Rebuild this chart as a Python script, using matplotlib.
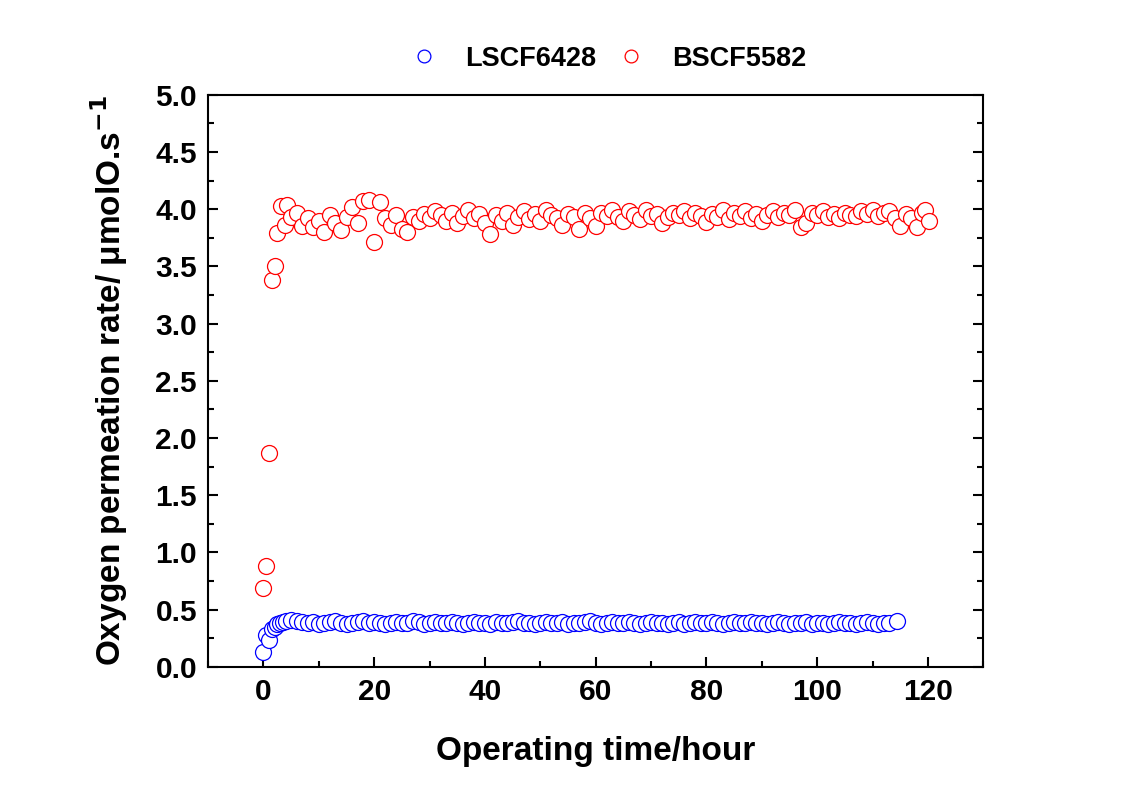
import matplotlib.pyplot as plt
from matplotlib.ticker import MultipleLocator

plt.rcParams['font.family'] = ['Liberation Sans', 'DejaVu Sans']
plt.rcParams['font.weight'] = 'bold'
plt.rcParams['axes.labelweight'] = 'bold'
plt.rcParams['mathtext.default'] = 'bf'

# Data
# ----------------------------------------------------------------------------

lscf_t = [0, 0.5, 1, 1.5, 2, 2.5, 3, 3.5, 4, 5, 6] + list(range(7, 114)) + [114.5]
lscf_y = [
    0.13, 0.28, 0.23, 0.33, 0.35, 0.37, 0.38, 0.39, 0.40, 0.41, 0.40,
    0.39, 0.38, 0.39, 0.37, 0.38, 0.39, 0.40, 0.38, 0.37, 0.38,   # 7-16
    0.39, 0.40, 0.38, 0.39, 0.38, 0.37, 0.38, 0.39, 0.38, 0.38,   # 17-26
    0.40, 0.39, 0.37, 0.38, 0.39, 0.38, 0.38, 0.39, 0.38, 0.37,   # 27-36
    0.38, 0.39, 0.38, 0.38, 0.37, 0.39, 0.38, 0.38, 0.39, 0.40,   # 37-46
    0.38, 0.38, 0.37, 0.38, 0.39, 0.38, 0.38, 0.39, 0.37, 0.38,   # 47-56
    0.38, 0.39, 0.40, 0.38, 0.37, 0.38, 0.39, 0.38, 0.38, 0.39,   # 57-66
    0.38, 0.37, 0.38, 0.39, 0.38, 0.38, 0.37, 0.38, 0.39, 0.37,   # 67-76
    0.38, 0.39, 0.38, 0.38, 0.39, 0.38, 0.37, 0.38, 0.39, 0.38,   # 77-86
    0.38, 0.39, 0.38, 0.38, 0.37, 0.38, 0.39, 0.38, 0.37, 0.38,   # 87-96
    0.38, 0.39, 0.37, 0.38, 0.38, 0.37, 0.38, 0.39, 0.38, 0.38,   # 97-106
    0.37, 0.38, 0.39, 0.38, 0.37, 0.38, 0.38,                     # 107-113
    0.40,
]

bscf_t = [0, 0.5, 1, 1.5, 2, 2.5, 3.2, 3.8, 4.2] + list(range(5, 120)) + [119.5, 120.2]
bscf_y = [
    0.69, 0.88, 1.87, 3.38, 3.50, 3.79, 4.03, 3.86, 4.04,
    3.93, 3.97, 3.85, 3.92, 3.84, 3.90, 3.80, 3.95, 3.88, 3.82,   # 5-14
    3.93, 4.02, 3.88, 4.07, 4.08, 3.71, 4.06, 3.92, 3.86, 3.95,   # 15-24
    3.83, 3.80, 3.93, 3.90, 3.96, 3.92, 3.98, 3.95, 3.90, 3.97,   # 25-34
    3.88, 3.94, 3.99, 3.92, 3.96, 3.88, 3.78, 3.95, 3.90, 3.97,   # 35-44
    3.86, 3.93, 3.98, 3.91, 3.96, 3.90, 3.99, 3.95, 3.92, 3.86,   # 45-54
    3.96, 3.93, 3.83, 3.97, 3.92, 3.85, 3.97, 3.94, 3.99, 3.93,   # 55-64
    3.90, 3.98, 3.95, 3.91, 3.99, 3.94, 3.96, 3.88, 3.93, 3.97,   # 65-74
    3.95, 3.98, 3.92, 3.97, 3.94, 3.89, 3.96, 3.93, 3.99, 3.91,   # 75-84
    3.97, 3.94, 3.98, 3.92, 3.96, 3.90, 3.95, 3.98, 3.93, 3.97,   # 85-94
    3.95, 3.99, 3.84, 3.88, 3.97, 3.95, 3.98, 3.93, 3.96, 3.92,   # 95-104
    3.97, 3.95, 3.94, 3.98, 3.96, 3.99, 3.94, 3.97, 3.98, 3.92,   # 105-114
    3.85, 3.96, 3.92, 3.84, 3.97,                                 # 115-119
    3.99, 3.90,
]

# Plot
# ----------------------------------------------------------------------------

fig = plt.figure(figsize=(11.25, 7.9), dpi=100)
ax = fig.add_axes([0.185, 0.156, 0.689, 0.724])

mk = dict(marker='o', linestyle='none', markersize=11.5, markerfacecolor='white',
          markeredgewidth=0.9)
ax.plot(lscf_t, lscf_y, color='#0000ff', label='LSCF6428', **mk)
ax.plot(bscf_t, bscf_y, color='#ff0000', label='BSCF5582', **mk)

ax.set_xlim(-10, 130)
ax.set_ylim(0, 5)
ax.xaxis.set_major_locator(MultipleLocator(20))
ax.xaxis.set_minor_locator(MultipleLocator(10))
ax.yaxis.set_major_locator(MultipleLocator(0.5))
ax.yaxis.set_minor_locator(MultipleLocator(0.25))
ax.yaxis.set_major_formatter(plt.FormatStrFormatter('%.1f'))

ax.tick_params(which='both', direction='in', right=True, width=1.5,
               labelsize=21.5, pad=8)
ax.tick_params(which='major', length=7)
ax.tick_params(which='minor', length=4)
for s in ax.spines.values():
    s.set_linewidth(1.5)

ax.set_xlabel('Operating time/hour', fontsize=24, fontweight='bold', labelpad=22)
ax.set_ylabel('Oxygen permeation rate/ μmolO.s$^{-1}$', fontsize=24,
              fontweight='bold', labelpad=18)

leg = ax.legend(loc='center', bbox_to_anchor=(0.512, 1.063), ncol=2, frameon=False,
                prop={'size': 19.5, 'weight': 'bold'}, markerscale=0.8,
                handlelength=1.5, handletextpad=0.8, columnspacing=0.5)

fig.savefig('out.png', dpi=100, facecolor='white')
